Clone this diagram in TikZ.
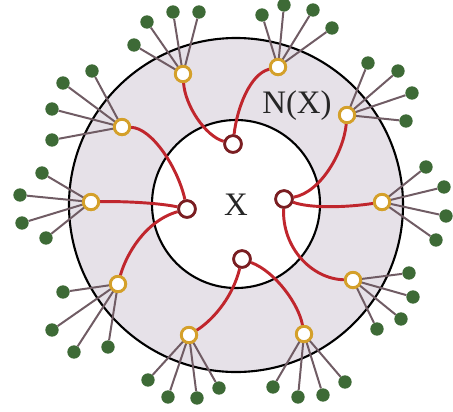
\documentclass[tikz,border=0pt]{standalone}
\usepackage{fontspec}
\setmainfont{Liberation Serif}
\usepackage{tikz}
\definecolor{ringfill}{RGB}{230,225,232}
\definecolor{linkred}{RGB}{192,38,45}
\definecolor{innred}{RGB}{122,30,34}
\definecolor{nbrgold}{RGB}{212,160,42}
\definecolor{leafgreen}{RGB}{61,106,54}
\definecolor{twiggray}{RGB}{112,92,100}
\tikzset{
  inn/.style ={circle,draw=innred,line width=2.3pt,fill=white,minimum size=5mm,inner sep=0pt},
  nbr/.style ={circle,draw=nbrgold,line width=2.4pt,fill=white,minimum size=4.6mm,inner sep=0pt},
  leaf/.style={circle,fill=leafgreen,minimum size=4mm,inner sep=0pt},
  link/.style={linkred,line width=2.5pt},
  twig/.style={twiggray,line width=1.7pt},
  rim/.style ={black,line width=1.8pt},
  lbl/.style ={font=\fontsize{28}{32}\selectfont,text=black!85},
}
\begin{document}
\begin{tikzpicture}[x=0.03cm,y=-0.03cm]
  \useasboundingbox (0,0) rectangle (453,411);
  % the two discs
  \fill[ringfill] (236,205) circle[radius=5.01cm];
  \draw[rim] (236,205) circle[radius=5.01cm];
  \filldraw[rim,fill=white] (236,204) circle[radius=2.52cm];
  \node[lbl] (x) at (236,205){X};
  \node[lbl] (nx) at (297,106){N(X)};

  % vertices of X
  \node[inn] (xt) at (233,144){};
  \node[inn] (xl) at (187,209){};
  \node[inn] (xr) at (284,199){};
  \node[inn] (xb) at (242,259){};

  % neighbours with their leaves
  \foreach \n/\p/\leaves in {
      1/{183,74}/{134/45,147/22,173/12,199/12},
      2/{278,67}/{262/15,284/5,313/10,332/28},
      3/{347,115}/{368/63,398/71,412/93,406/121},
      4/{382,202}/{426/167,444/187,446/216,436/240},
      5/{353,280}/{409/273,413/297,401/319,377/329},
      6/{304,334}/{273/387,298/397,323/395,345/382},
      7/{189,335}/{148/380,168/397,197/398,219/388},
      8/{118,284}/{63/292,52/330,74/352,108/347},
      9/{91,202}/{42/173,20/195,22/223,46/238},
      10/{122,127}/{92/71,63/83,52/109,52/140}}{
    \coordinate (c\n) at (\p);
    \foreach \a/\b [count=\k] in \leaves {
      \node[leaf] (l\n-\k) at (\a,\b){};
      \draw[twig] (c\n) -- (l\n-\k);
    }
    \node[nbr] (n\n) at (c\n){};
  }

  % links from X to N(X)
  \draw[link] (xt) .. controls (205,136) and (185,105) .. (n1);
  \draw[link] (xt) .. controls (237,108) and (250,74) .. (n2);
  \draw[link] (xr) .. controls (322,192) and (344,150) .. (n3);
  \draw[link] (xr) .. controls (312,209) and (350,207) .. (n4);
  \draw[link] (xr) .. controls (282,248) and (312,279) .. (n5);
  \draw[link] (xb) .. controls (276,272) and (299,305) .. (n6);
  \draw[link] (xb) .. controls (232,300) and (210,322) .. (n7);
  \draw[link] (xl) .. controls (145,221) and (126,255) .. (n8);
  \draw[link] (xl) .. controls (160,203) and (122,201) .. (n9);
  \draw[link] (xl) .. controls (178,168) and (152,128) .. (n10);
  \foreach \v in {xt,xl,xr,xb} \node[inn] at (\v){};
  \foreach \n in {1,...,10} \node[nbr] at (n\n){};
\end{tikzpicture}
\end{document}
